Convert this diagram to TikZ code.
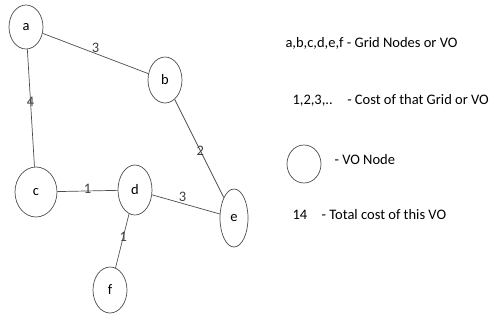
\documentclass[tikz,border=0pt]{standalone}
\usepackage{fontspec}
\setmainfont{Carlito}
\usetikzlibrary{shapes.geometric}
\tikzset{
  vonode/.style={draw=black!70, ellipse, line width=0.7pt, inner sep=0pt},
  edge/.style={draw=black!70, line width=0.7pt},
  cost/.style={text=black!75, inner sep=1pt}
}
\begin{document}
\begin{tikzpicture}[x=1pt, y=-1pt, font=\fontsize{14.5}{17}\selectfont]
    \useasboundingbox (0,0) rectangle (495,322);
    % VO nodes
    \node[vonode, minimum width=34pt, minimum height=44pt] (a) at (26,27) {a};
    \node[vonode, minimum width=34pt, minimum height=46pt] (b) at (165,80) {b};
    \node[vonode, minimum width=42pt, minimum height=50pt] (c) at (36,192) {c};
    \node[vonode, minimum width=34pt, minimum height=50pt] (d) at (135,190) {d};
    \node[vonode, minimum width=28pt, minimum height=58pt] (e) at (234,218) {e};
    \node[vonode, minimum width=34pt, minimum height=46pt] (f) at (110,290) {f};
    % Links with costs
    \draw[edge] (a) -- node[cost, above, pos=0.5] {3} (b);
    \draw[edge] (a) -- node[cost, pos=0.45] {4} (c);
    \draw[edge] (b) -- node[cost, pos=0.52] {2} (e);
    \draw[edge] (c) -- node[cost, pos=0.5, yshift=2pt] {1} (d);
    \draw[edge] (d) -- node[cost, above, pos=0.45] {3} (e);
    \draw[edge] (d) -- node[cost, pos=0.42] {1} (f);
    % Legend
    \node[anchor=west] (key1) at (282,43) {a,b,c,d,e,f - Grid Nodes or VO};
    \node[anchor=west] (key2) at (289,100) {1,2,3,..\quad - Cost of that Grid or VO};
    \node[vonode, minimum width=34pt, minimum height=38pt] (keyvo) at (304,164) {};
    \node[anchor=west] (key3) at (331,160) {- VO Node};
    \node[anchor=west] (key4) at (289,215) {14\quad - Total cost of this VO};
\end{tikzpicture}
\end{document}
